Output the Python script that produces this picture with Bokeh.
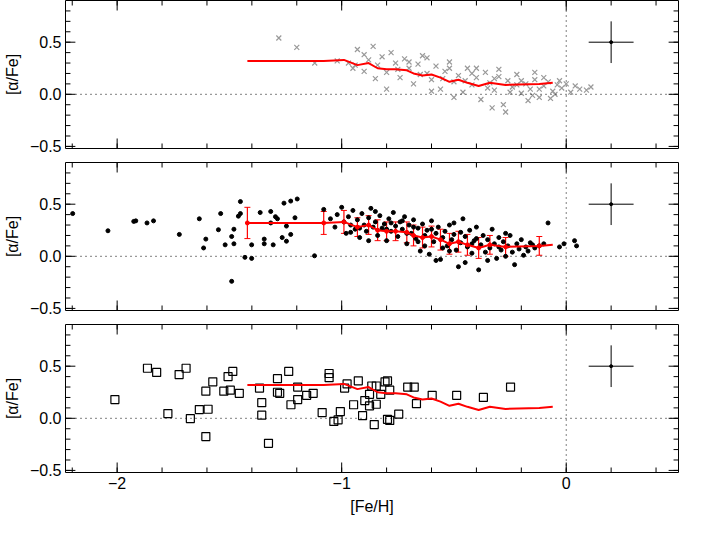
from bokeh.plotting import figure
from bokeh.layouts import column
from bokeh.models import LinearAxis, Span, Range1d, FixedTicker, Whisker, ColumnDataSource
from bokeh.embed import file_html
from bokeh.resources import INLINE

# red running-mean line
line_fe = [-1.42,-1.08,-0.99,-0.93,-0.88,-0.84,-0.80,-0.76,-0.71,-0.68,-0.64,-0.60,-0.56,-0.52,-0.48,-0.44,-0.39,-0.34,-0.27,-0.12,-0.06]
line_a  = [0.32,0.32,0.33,0.28,0.30,0.25,0.24,0.24,0.23,0.20,0.18,0.19,0.16,0.12,0.14,0.11,0.08,0.11,0.09,0.10,0.11]
line_err= [0.15,0.11,0.11,0.09,0.09,0.10,0.09,0.09,0.10,0.10,0.10,0.10,0.10,0.10,0.10,0.10,0.10,0.09,0.09,0.09,0.0]

# top panel (crosses)
top_fe = [-1.02,-0.97,-0.95,-0.93,-0.9,-0.88,-0.86,-0.84,-0.82,-0.8,-0.78,-0.76,-0.74,-0.72,-0.70,-0.68,-0.66,-0.64,-0.62,-0.60,-0.58,-0.56,-0.54,-0.52,-0.50,-0.48,-0.46,-0.44,-0.42,-0.40,-0.38,-0.36,-0.34,-0.32,-0.30,-0.28,-0.26,-0.24,-0.22,-0.20,-0.18,-0.16,-0.14,-0.12,-0.10,-0.08,-0.06,-0.04,-0.02,0.0,0.02,0.04,0.06,0.09,0.11,-0.9,-0.85,-0.75,-0.65,-0.55,-0.45,-0.35,-0.25,-0.15,-0.05,-0.8,-0.7,-0.6,-0.5,-0.4,-0.3,-0.2,-0.1,-0.27,-0.33,-0.17,-0.07,-0.62,-0.52,-0.42,-0.32,-0.22,-0.12,-0.03,-1.12,-1.2,-1.28,-0.94,-0.14]
top_a  = [0.32,0.30,0.25,0.43,0.38,0.33,0.46,0.28,0.36,0.21,0.40,0.30,0.16,0.34,0.25,0.10,0.29,0.37,0.20,0.14,0.27,0.05,0.22,0.31,0.12,0.18,0.02,0.25,0.09,0.16,-0.05,0.21,0.11,0.04,0.17,-0.10,0.13,0.07,0.19,0.01,0.10,0.05,0.14,-0.03,0.08,0.12,0.03,0.09,0.06,0.10,0.02,0.08,0.05,0.04,0.07,0.22,0.15,0.24,0.19,0.15,0.13,0.06,0.02,-0.01,0.0,0.05,0.31,0.03,-0.03,0.25,0.24,0.13,0.16,-0.17,-0.13,-0.06,-0.04,0.35,0.25,0.20,0.15,0.09,0.05,0.13,0.30,0.45,0.54,0.28,0.21]

# middle panel (dots)
mid_fe = [-2.198,-2.041,-1.926,-1.917,-1.867,-1.838,-1.723,-1.634,-1.615,-1.605,-1.549,-1.539,-1.519,-1.490,-1.490,-1.480,-1.480,-1.460,-1.451,-1.451,-1.431,-1.401,-1.401,-1.363,-1.345,-1.345,-1.316,-1.316,-1.305,-1.295,-1.286,-1.265,-1.257,-1.246,-1.246,-1.227,-1.227,-1.208,-1.198,-1.121,-0.081,-0.03,-0.01,0.037,0.046,
 -1.08,-1.05,-1.03,-1.02,-1.0,-0.99,-0.98,-0.97,-0.96,-0.95,-0.94,-0.93,-0.92,-0.91,-0.9,-0.89,-0.88,-0.87,-0.86,-0.85,-0.84,-0.83,-0.82,-0.81,-0.8,-0.79,-0.78,-0.77,-0.76,-0.75,-0.74,-0.73,-0.72,-0.71,-0.70,-0.69,-0.68,-0.67,-0.66,-0.65,-0.64,-0.63,-0.62,-0.61,-0.60,-0.59,-0.58,-0.57,-0.56,-0.55,-0.54,-0.53,-0.52,-0.51,-0.50,-0.49,-0.48,-0.47,-0.46,-0.45,-0.44,-0.43,-0.42,-0.41,-0.40,-0.39,-0.38,-0.37,-0.36,-0.35,-0.34,-0.33,-0.32,-0.31,-0.30,-0.29,-0.28,-0.27,-0.26,-0.25,-0.24,-0.23,-0.22,-0.21,-0.20,-0.19,-0.18,-0.17,-0.16,-0.15,-0.14,-0.12,-0.10,-0.58,-0.73,-0.85,-0.63,-0.5,-0.45,-0.35,-0.27,-0.55,-0.68,-0.78,-0.92,-0.60,-0.40,-0.30,-0.52,-0.47,-0.42,-0.66,-0.71,-0.8,-0.88,-0.96]
mid_a  = [0.41,0.245,0.335,0.34,0.32,0.34,0.21,0.36,0.08,0.165,0.255,0.41,0.11,0.19,-0.24,0.12,0.26,0.385,0.525,0.41,-0.01,-0.02,0.11,0.42,0.165,0.12,0.43,0.32,0.11,0.38,0.36,0.18,0.51,0.145,0.29,0.53,0.21,0.37,0.55,0.005,0.32,0.09,0.12,0.15,0.10,
 0.45,0.36,0.28,0.40,0.47,0.33,0.22,0.38,0.30,0.44,0.26,0.35,0.18,0.41,0.30,0.24,0.37,0.46,0.28,0.33,0.20,0.39,0.27,0.31,0.15,0.36,0.24,0.42,0.29,0.19,0.33,0.26,0.38,0.12,0.30,0.22,0.35,0.17,0.27,0.05,0.31,0.20,0.25,0.02,0.34,0.14,0.22,0.28,-0.03,0.18,0.24,0.10,0.30,0.16,0.21,0.06,-0.10,0.13,0.36,0.19,0.09,0.25,0.03,0.15,0.28,-0.13,0.11,0.20,0.04,0.16,0.08,0.26,0.12,-0.02,0.18,0.06,0.14,0.00,0.10,0.20,0.04,-0.08,0.12,0.07,0.16,0.01,0.09,0.05,0.13,0.11,0.08,0.10,0.12,-0.04,0.34,0.43,0.10,0.32,-0.06,-0.04,0.22,0.08,0.28,0.32,0.27,0.26,0.17,0.09,0.05,0.23,0.12,0.14,0.22,0.26,0.15,0.23]

# bottom panel (squares)
bot_fe = [-2.01,-1.865,-1.824,-1.774,-1.724,-1.693,-1.674,-1.634,-1.605,-1.605,-1.595,-1.574,-1.525,-1.506,-1.496,-1.485,-1.456,-1.366,-1.356,-1.356,-1.326,-1.286,-1.286,-1.276,-1.236,-1.226,-1.196,-1.196,-1.156,-1.127,-1.087,-1.056,-1.056,-1.035,-1.016,-1.006,-0.987,-0.976,-0.947,-0.926,-0.907,-0.897,-0.876,-0.876,-0.866,-0.855,-0.846,-0.846,-0.826,-0.807,-0.796,-0.796,-0.786,-0.786,-0.746,-0.706,-0.677,-0.667,-0.597,-0.488,-0.369,-0.248]
bot_a  = [0.18,0.48,0.44,0.045,0.42,0.48,-0.003,0.084,0.26,-0.175,0.087,0.35,0.26,0.40,0.27,0.45,0.24,0.29,0.15,0.03,-0.24,0.38,0.25,0.24,0.45,0.13,0.30,0.18,0.22,0.24,0.055,0.43,0.39,-0.03,-0.015,0.065,0.29,0.33,0.13,0.36,0.026,0.17,0.23,0.12,0.31,-0.06,0.31,0.135,0.23,0.35,0.36,-0.01,-0.02,0.27,0.04,0.30,0.30,0.14,0.22,0.22,0.20,0.30]

err_fe, err_a, err_dx, err_dy = [0.2], [0.5], [0.1], [0.2]

x_major = [-2, -1, 0]
x_minor = [-2.2 + 0.2 * i for i in range(14)]
y_major = [-0.5, 0, 0.5]
y_minor = [-0.5 + 0.1 * i for i in range(14)]

X0, X1, Y0, Y1 = -2.23, 0.5, -0.52, 0.9
FONT = "Liberation Sans"

def panel(height, btop, bbot, show_x):
    p = figure(width=690, height=height, x_range=Range1d(X0, X1), y_range=Range1d(Y0, Y1),
               output_backend="svg", toolbar_location=None,
               min_border_left=60, min_border_right=12, min_border_top=btop, min_border_bottom=bbot,
               x_axis_location=None, y_axis_location=None)
    p.grid.visible = False
    p.outline_line_color = "black"
    p.outline_line_width = 1
    ly = LinearAxis(ticker=FixedTicker(ticks=y_major), axis_label="[α/Fe]")
    ly.major_label_overrides = {-0.5: "−0.5", 0: "0.0", 0.5: "0.5"}
    axes = [(ly, "left")]
    if show_x:
        lx = LinearAxis(ticker=FixedTicker(ticks=x_major), axis_label="[Fe/H]")
        lx.major_label_overrides = {-2: "−2", -1: "−1", 0: "0"}
        axes.append((lx, "below"))
    for ax, loc in axes:
        ax.major_tick_in = 0; ax.major_tick_out = 0
        ax.minor_tick_in = 0; ax.minor_tick_out = 0
        ax.minor_tick_line_color = None
        ax.major_tick_line_color = None
        ax.axis_line_color = None
        ax.major_label_text_font = FONT
        ax.major_label_text_font_size = "16px"
        ax.major_label_text_color = "black"
        ax.major_label_standoff = 4
        ax.axis_label_text_font = FONT
        ax.axis_label_text_font_size = "16px"
        ax.axis_label_text_font_style = "normal"
        ax.axis_label_text_color = "black"
        ax.axis_label_standoff = 6
        p.add_layout(ax, loc)
    # inward ticks on all four sides
    dxm, dxn = 0.044, 0.022
    dym, dyn = 0.096, 0.048
    for ticks, l in ((x_major, dym), (x_minor, dyn)):
        p.segment(x0=ticks, x1=ticks, y0=[Y0]*len(ticks), y1=[Y0+l]*len(ticks), color="black", line_width=1)
        p.segment(x0=ticks, x1=ticks, y0=[Y1]*len(ticks), y1=[Y1-l]*len(ticks), color="black", line_width=1)
    for ticks, l in ((y_major, dxm), (y_minor, dxn)):
        p.segment(y0=ticks, y1=ticks, x0=[X0]*len(ticks), x1=[X0+l]*len(ticks), color="black", line_width=1)
        p.segment(y0=ticks, y1=ticks, x0=[X1]*len(ticks), x1=[X1-l]*len(ticks), color="black", line_width=1)
    p.add_layout(Span(location=0, dimension="width", line_dash="1 4", line_color="black", line_width=1))
    p.add_layout(Span(location=0, dimension="height", line_dash="1 4", line_color="black", line_width=1))
    # error cross
    p.segment(x0=[err_fe[0]-err_dx[0]], x1=[err_fe[0]+err_dx[0]], y0=err_a, y1=err_a, color="black", line_width=1)
    p.segment(x0=err_fe, x1=err_fe, y0=[err_a[0]-err_dy[0]], y1=[err_a[0]+err_dy[0]], color="black", line_width=1)
    p.scatter(err_fe, err_a, size=3, color="black")
    return p

p1 = panel(155, 0, 7, False)
p1.scatter(top_fe, top_a, marker="x", size=7, line_color="#999999", line_width=1.2)
p1.line(line_fe, line_a, color="red", line_width=2)

p2 = panel(162, 7, 7, False)
p2.scatter(mid_fe, mid_a, size=4, color="black")
src = ColumnDataSource(dict(x=line_fe[:-1], lo=[a-e for a, e in zip(line_a[:-1], line_err[:-1])],
                            hi=[a+e for a, e in zip(line_a[:-1], line_err[:-1])]))
w = Whisker(source=src, base="x", lower="lo", upper="hi", line_color="red", line_width=1.2)
w.upper_head.line_color = "red"; w.lower_head.line_color = "red"
w.upper_head.size = 6; w.lower_head.size = 6
p2.add_layout(w)
p2.line(line_fe, line_a, color="red", line_width=2)
p2.scatter(line_fe[:-1], line_a[:-1], size=4, color="red")

p3 = panel(212, 7, 57, True)
p3.scatter(bot_fe, bot_a, marker="square", size=8, fill_color=None, line_color="black", line_width=1.2)
p3.line(line_fe, line_a, color="red", line_width=2)

page = column(p1, p2, p3, spacing=0)
open("out.html", "w").write(file_html(page, INLINE))
